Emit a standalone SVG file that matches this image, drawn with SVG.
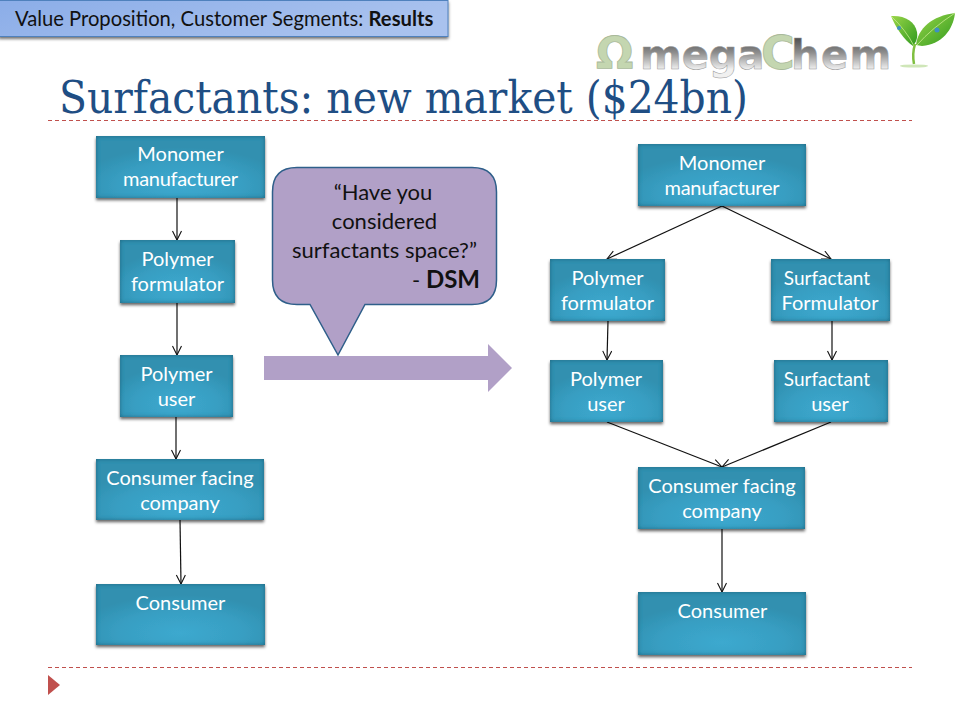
<svg xmlns="http://www.w3.org/2000/svg" width="960" height="720" viewBox="0 0 960 720">
<defs>
<radialGradient id="nodeFill" cx="0.5" cy="0.8" r="0.62">
<stop offset="0" stop-color="#3CA9CF"/><stop offset="0.6" stop-color="#389EC2"/><stop offset="1" stop-color="#3090B0"/>
</radialGradient>
<linearGradient id="tagFill" x1="0" y1="0" x2="1" y2="0.3">
<stop offset="0" stop-color="#8BADE8"/><stop offset="1" stop-color="#A9C2EE"/>
</linearGradient>
<linearGradient id="logoGrey" x1="0" y1="0" x2="0" y2="1">
<stop offset="0.15" stop-color="#3E3E3E"/><stop offset="0.5" stop-color="#8F8F8F"/><stop offset="0.8" stop-color="#F0F0F0"/>
</linearGradient>
<linearGradient id="leaf" x1="0" y1="0" x2="1" y2="1">
<stop offset="0" stop-color="#9BD649"/><stop offset="1" stop-color="#2F9A1E"/>
</linearGradient>
<filter id="shadow" x="-10%" y="-10%" width="120%" height="125%">
<feDropShadow dx="0" dy="2" stdDeviation="1.6" flood-color="#000" flood-opacity="0.55"/>
</filter>
<filter id="bevel" x="-10%" y="-10%" width="120%" height="125%">
<feFlood flood-color="#174C63" flood-opacity="0.75"/>
<feComposite in2="SourceAlpha" operator="out" result="inv"/>
<feGaussianBlur in="inv" stdDeviation="2.2" result="blur"/>
<feComposite in="blur" in2="SourceAlpha" operator="in" result="inner"/>
<feDropShadow in="SourceAlpha" dx="0" dy="2.2" stdDeviation="1.5" flood-color="#000" flood-opacity="0.6" result="drop"/>
<feMerge><feMergeNode in="drop"/><feMergeNode in="SourceGraphic"/><feMergeNode in="inner"/></feMerge>
</filter>
<marker id="open" markerWidth="12" markerHeight="12" refX="10" refY="5" orient="auto" markerUnits="userSpaceOnUse">
<path d="M1 0.5L10 5L1 9.5" fill="none" stroke="#111" stroke-width="1.1"/>
</marker>
</defs>
<style>
.n{fill:url(#nodeFill);filter:url(#bevel)}
.t{font-family:"Lato","Noto Sans",sans-serif;font-size:20px;fill:#fff;text-anchor:middle}
.s{font-size:19px}
.c{fill:none;stroke:#111;stroke-width:1.2;marker-end:url(#open)}
.d{stroke:#C0504D;stroke-width:1;stroke-dasharray:4 3;fill:none}
.q{font-family:"Lato","Noto Sans",sans-serif;font-size:22px;fill:#111;text-anchor:middle}
.lg{fill:url(#logoGrey);stroke:#999;stroke-width:.5;font-size:40px}
.lc{fill:#C4D6B0;stroke:#A9B99A;stroke-width:.8}
</style>
<rect width="960" height="720" fill="#fff"/>

<g id="tag">
<rect x="-1" y="0.5" width="449" height="36" fill="url(#tagFill)" stroke="#4F81BD" filter="url(#shadow)"/>
<text x="15" y="26" font-family="Lato,'Noto Sans',sans-serif" font-size="20.200" fill="#111">Value Proposition, Customer Segments: <tspan font-weight="700">Results</tspan></text>
</g>

<g id="logo">
<text y="69" font-family="'DejaVu Sans',sans-serif" font-weight="700"><tspan class="lc" x="596" font-size="44">Ω</tspan><tspan class="lg" x="640">mega</tspan><tspan class="lc" x="761" font-size="46">C</tspan><tspan class="lg" x="791" letter-spacing="1.500">hem</tspan></text>
<path d="M913 46C904 40 896 28 891 16C904 15 915 21 917 32C918 38 916 42 913 46Z" fill="url(#leaf)"/>
<path d="M916 45C918 28 932 16 955 13C953 30 942 44 922 46Z" fill="url(#leaf)"/>
<path d="M891 16Q906 30 914 46M955 13Q932 28 917 45" fill="none" stroke="#C8EB8F" stroke-width="0.8"/>
<path d="M915 44Q912 54 914 64" stroke="#7FBF3F" stroke-width="2.5" fill="none"/>
<ellipse cx="914" cy="66" rx="14" ry="1.6" fill="#CFE6B8"/>
<circle cx="937" cy="30" r="2.500" fill="#3E8FC4"/>
<circle cx="899" cy="28" r="2" fill="#3E8FC4"/>
</g>

<g id="title">
<text x="59" y="113" font-family="'DejaVu Serif',serif" font-size="44" fill="#1F4E84" textLength="689" lengthAdjust="spacingAndGlyphs">Surfactants: new market ($24bn)</text>
</g>
<path class="d" d="M48 120.500H912M48 667.500H912"/>
<polygon id="bullet" points="48,675 60,685 48,695" fill="#C0504D"/>

<g id="connectors">
<path class="c" d="M177 198V240"/>
<path class="c" d="M177 303V355"/>
<path class="c" d="M176 417V459"/>
<path class="c" d="M180 520L181 584"/>
<path class="c" d="M722 206L607 259"/>
<path class="c" d="M722 206L831 259"/>
<path class="c" d="M608 321L607 360"/>
<path class="c" d="M832 321V360"/>
<path class="c" d="M607 422L722 467"/>
<path class="c" d="M831 422L722 467"/>
<path class="c" d="M722 529V592"/>
</g>

<g id="L1"><rect class="n" x="96" y="136" width="169" height="62"/><text class="t"><tspan x="180.500" y="161">Monomer</tspan><tspan x="180.500" y="186" textLength="115">manufacturer</tspan></text></g>
<g id="L2"><rect class="n" x="120" y="240" width="115" height="63"/><text class="t"><tspan x="177.500" y="266">Polymer</tspan><tspan x="177.500" y="291">formulator</tspan></text></g>
<g id="L3"><rect class="n" x="120" y="355" width="113" height="62"/><text class="t"><tspan x="176.500" y="381">Polymer</tspan><tspan x="176.500" y="406">user</tspan></text></g>
<g id="L4"><rect class="n" x="96" y="459" width="168" height="61"/><text class="t"><tspan x="180" y="485">Consumer facing</tspan><tspan x="180" y="510">company</tspan></text></g>
<g id="L5"><rect class="n" x="96" y="584" width="169" height="61"/><text class="t" x="180.500" y="610">Consumer</text></g>

<g id="R1"><rect class="n" x="638" y="144" width="168" height="62"/><text class="t"><tspan x="722" y="170">Monomer</tspan><tspan x="722" y="195" textLength="115">manufacturer</tspan></text></g>
<g id="R2"><rect class="n" x="550" y="259" width="115" height="62"/><text class="t"><tspan x="607.500" y="285">Polymer</tspan><tspan x="607.500" y="310">formulator</tspan></text></g>
<g id="R3"><rect class="n" x="771" y="259" width="119" height="62"/><text class="t"><tspan class="s" x="827" y="285">Surfactant</tspan><tspan x="830" y="310">Formulator</tspan></text></g>
<g id="R4"><rect class="n" x="550" y="360" width="113" height="62"/><text class="t"><tspan x="606" y="386">Polymer</tspan><tspan x="606" y="411">user</tspan></text></g>
<g id="R5"><rect class="n" x="774" y="360" width="114" height="62"/><text class="t"><tspan class="s" x="827" y="386">Surfactant</tspan><tspan x="830" y="411">user</tspan></text></g>
<g id="R6"><rect class="n" x="638" y="467" width="167" height="62"/><text class="t"><tspan x="722" y="493">Consumer facing</tspan><tspan x="722" y="518">company</tspan></text></g>
<g id="R7"><rect class="n" x="638" y="592" width="168" height="63"/><text class="t" x="722.500" y="618">Consumer</text></g>

<g id="arrow"><polygon points="264,356 488,356 488,344 512,368 488,392 488,380 264,380" fill="#B1A0C7"/></g>
<g id="callout">
<path d="M297 167.500H472Q496.500 167.500 496.500 192V280Q496.500 304.500 472 304.500H365L338 355L310 304.500H297Q272.500 304.500 272.500 280V192Q272.500 167.500 297 167.500Z" fill="#B1A0C7" stroke="#2F5F8A" stroke-width="1.5"/>
<text class="q"><tspan x="383" y="200">“Have you</tspan><tspan x="384.500" y="229">considered</tspan><tspan x="384.500" y="258">surfactants space?”</tspan></text>
<text x="480" y="288" class="q" style="text-anchor:end">- <tspan font-weight="700" font-size="24">DSM</tspan></text>
</g>
</svg>
